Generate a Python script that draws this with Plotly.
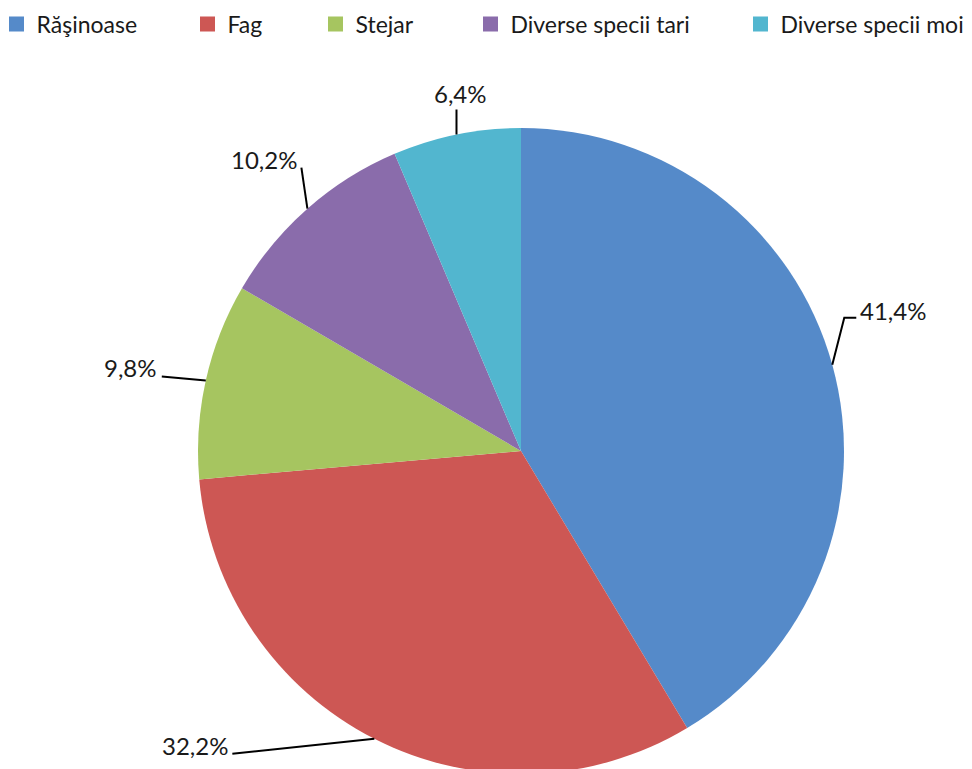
import math
import plotly.graph_objects as go

# ---- data ----
categories = ["Răşinoase", "Fag", "Stejar", "Diverse specii tari", "Diverse specii moi"]
values = [41.4, 32.2, 9.8, 10.2, 6.4]
colors = ["#558AC9", "#CD5754", "#A6C560", "#8A6CAB", "#52B6CF"]

# ---- geometry ----
OFF = 8                 # default body margin of the html page
W, H = 964, 770         # figure size
CX, CY, R = 521, 451, 323  # pie centre / radius in page pixels

# legend symbol centres (page px) and vertical centre
legend_sym_x = [16.5, 207.5, 335.5, 490.5, 760.5]
legend_y = 24

# leader-line styles: points relative to slice edge anchor, label offset, alignment
leader = [
    dict(pts=[(12, -47), (24, -47)], lab=(26, -54), xa="left"),
    dict(pts=[(-142, 15)], lab=(-144, 7), xa="right"),
    dict(pts=[(-44, -4)], lab=(-47, -13), xa="right"),
    dict(pts=[(-6, -41)], lab=(-8, -49), xa="right"),
    dict(pts=[(0, -25)], lab=(4, -41), xa="center"),
]


def px2paper(x, y):
    return (x - OFF) / W, 1 - (y - OFF) / H


fig = go.Figure()
fig.add_trace(
    go.Pie(
        labels=categories,
        values=values,
        marker=dict(colors=colors, line=dict(width=0)),
        sort=False,
        direction="clockwise",
        rotation=0,
        textinfo="none",
        hoverinfo="label+percent",
        showlegend=False,
        domain=dict(x=[(CX - OFF - R) / W, (CX - OFF + R) / W],
                    y=[1 - (CY - OFF + R) / H, 1 - (CY - OFF - R) / H]),
    )
)

# legend entries (one legend per entry so spacing follows the original)
legend_layouts = {}
for i, (cat, col, sx) in enumerate(zip(categories, colors, legend_sym_x)):
    lname = "legend" if i == 0 else f"legend{i + 1}"
    fig.add_trace(go.Scatter(
        x=[None], y=[None], mode="markers", name=cat,
        marker=dict(symbol="square", size=15, color=col),
        legend=lname, showlegend=True, hoverinfo="skip",
    ))
    lx, ly = px2paper(sx - 20, legend_y)
    legend_layouts[lname] = dict(
        x=lx, y=ly, xanchor="left", yanchor="middle",
        bgcolor="rgba(0,0,0,0)",
        font=dict(family="Lato", size=23, color="#1a1a1a"),
    )

total = sum(values)
cum = 0.0
shapes = []
annotations = []
for v, st in zip(values, leader):
    mid = (cum + v / 2) / total * 2 * math.pi
    cum += v
    ax = CX + R * math.sin(mid)
    ay = CY - R * math.cos(mid)
    pts = [(ax, ay)] + [(ax + dx, ay + dy) for dx, dy in st["pts"]]
    path = ""
    for i, (x, y) in enumerate(pts):
        px, py = px2paper(x, y)
        path += ("M" if i == 0 else "L") + f"{px:.5f},{py:.5f} "
    shapes.append(dict(type="path", xref="paper", yref="paper", path=path.strip(),
                       line=dict(color="#000000", width=2)))
    lx, ly = px2paper(ax + st["lab"][0], ay + st["lab"][1])
    annotations.append(dict(
        x=lx, y=ly, xref="paper", yref="paper", showarrow=False,
        text=f"{v:.1f}".replace(".", ",") + "%",
        xanchor=st["xa"], yanchor="middle",
        font=dict(family="Lato", size=24, color="#1a1a1a"),
    ))

fig.update_layout(
    width=W, height=H,
    margin=dict(l=0, r=0, t=0, b=0, autoexpand=False),
    paper_bgcolor="white",
    plot_bgcolor="white",
    xaxis=dict(visible=False),
    yaxis=dict(visible=False),
    shapes=shapes,
    annotations=annotations,
    showlegend=True,
    **legend_layouts,
)

fig.write_html("out.html")
